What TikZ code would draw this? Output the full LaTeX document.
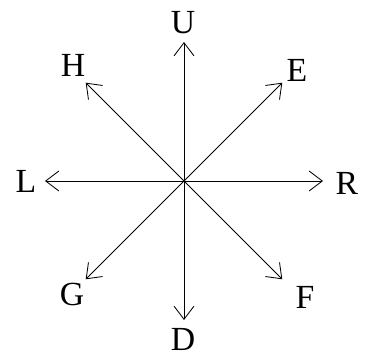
\documentclass[tikz,border=0pt]{standalone}
\usepackage{fontspec}
\setmainfont{Liberation Serif}
\usetikzlibrary{arrows.meta}
\begin{document}
\begin{tikzpicture}[dir/.style={line width=0.6pt, -{Straight Barb[length=3.3mm, width=5mm, line width=0.6pt]}},
	lbl/.style={font=\fontsize{24}{28}\selectfont, inner sep=0pt}]
			\useasboundingbox (-4.6,-4.4) rectangle (4.625,4.525);
			\coordinate (o) at (0,0);
			% arrow tips
			\coordinate (tipU) at (90:3.475);
			\coordinate (tipD) at (-90:3.475);
			\coordinate (tipL) at (180:3.475);
			\coordinate (tipR) at (0:3.475);
			\coordinate (tipH) at (135:3.475);
			\coordinate (tipE) at (45:3.475);
			\coordinate (tipG) at (-135:3.475);
			\coordinate (tipF) at (-45:3.475);
			% labels
			\node[lbl] (U) at (-0.025,3.95) {U};
			\node[lbl] (D) at (-0.025,-3.96) {D};
			\node[lbl] (L) at (-3.95,0) {L};
			\node[lbl] (R) at (4.075,-0.05) {R};
			\node[lbl] (H) at (-2.775,2.9) {H};
			\node[lbl] (E) at (2.825,2.775) {E};
			\node[lbl] (G) at (-2.8,-2.85) {G};
			\node[lbl] (F) at (3.025,-2.9) {F};
			\draw[dir] (o) -- (tipU);
			\draw[dir] (o) -- (tipD);
			\draw[dir] (o) -- (tipL);
			\draw[dir] (o) -- (tipR);
			\draw[dir] (o) -- (tipH);
			\draw[dir] (o) -- (tipE);
			\draw[dir] (o) -- (tipG);
			\draw[dir] (o) -- (tipF);
		\end{tikzpicture}
\end{document}
